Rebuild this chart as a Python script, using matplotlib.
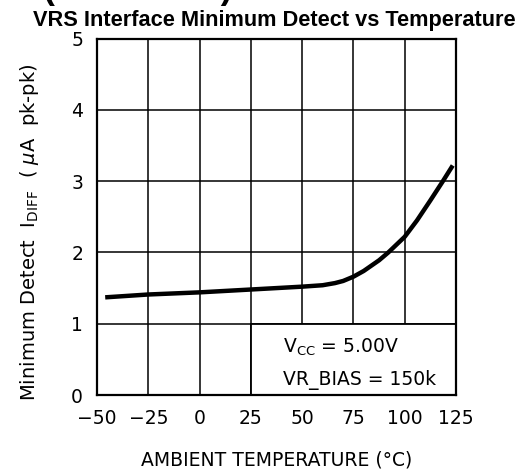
import matplotlib
matplotlib.use("Agg")
import matplotlib.pyplot as plt
from matplotlib.patches import Rectangle

# curve
temp = [-46, -25, 0, 25, 50, 60, 66, 70, 75, 80, 87.5, 92, 100, 106, 112.5, 118.6, 123.4]
detect = [1.37, 1.41, 1.44, 1.48, 1.52, 1.54, 1.57, 1.60, 1.66, 1.74, 1.89, 2.0, 2.22, 2.45, 2.73, 3.0, 3.22]

xticks = [-50, -25, 0, 25, 50, 75, 100, 125]
yticks = [0, 1, 2, 3, 4, 5]
note_lines = ["V$_{\\mathrm{CC}}$ = 5.00V", "VR_BIAS = 150k"]

plt.rcParams['font.family'] = 'DejaVu Sans'
plt.rcParams['mathtext.fontset'] = 'dejavusans'

fig = plt.figure(figsize=(5.22, 4.73), dpi=100)
ax = fig.add_axes([0.1858, 0.1649, 0.6878, 0.7535])

# grid
for t in xticks:
    ax.axvline(t, color='black', lw=1.1, zorder=1)
for v in yticks:
    ax.axhline(v, color='black', lw=1.1, zorder=1)

# box with conditions, covers the grid
ax.add_patch(Rectangle((25, 0), 100, 1, facecolor='white', edgecolor='black', lw=1.3, zorder=2))
ax.text(40.6, 0.59, note_lines[0], fontsize=13.5, va='baseline', ha='left', zorder=3)
ax.text(40.6, 0.14, note_lines[1], fontsize=13.5, va='baseline', ha='left', zorder=3)

ax.plot(temp, detect, color='black', lw=3.2, solid_capstyle='butt', zorder=4)

ax.set_xlim(-50, 125)
ax.set_ylim(0, 5)
ax.set_xticks(xticks)
ax.set_yticks(yticks)
ax.tick_params(length=0, labelsize=13.5, pad=10)
for s in ax.spines.values():
    s.set_linewidth(1.6)

ax.set_xlabel("AMBIENT TEMPERATURE (°C)", fontsize=13.5, va='center')
ax.xaxis.set_label_coords(0.5, -0.182)
ax.set_ylabel("Minimum Detect  I$_{\\mathrm{DIFF}}$  ( $\\mu$A  pk-pk)", fontsize=14, va='center')
ax.yaxis.set_label_coords(-0.189, 0.457)

fig.text(0.526, 0.945, "VRS Interface Minimum Detect vs Temperature", fontsize=15.7,
         fontweight='bold', family='Liberation Sans', ha='center', va='baseline')
fig.text(0.446, 1.002, "Typical Performance Characteristics (continued)", fontsize=25,
         fontweight='bold', family='Liberation Sans', ha='right', va='baseline')

fig.savefig("out.png", dpi=100)
